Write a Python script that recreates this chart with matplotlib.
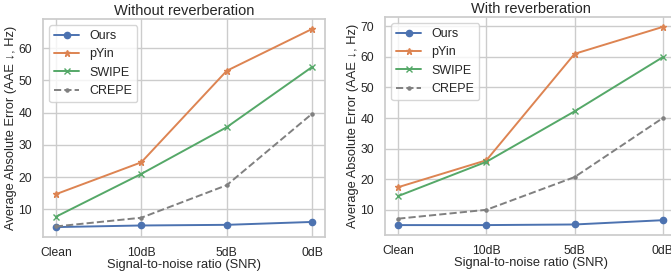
import numpy as np
import matplotlib
matplotlib.use("Agg")
import matplotlib.pyplot as plt
import seaborn as sns

sns.set_theme(style="whitegrid")
plt.rcParams['font.family'] = ['Liberation Sans', 'DejaVu Sans']

snr = ["Clean", "10dB", "5dB", "0dB"]

# without reverberation
ours_clean = [4.5, 5.0, 5.2, 6.1]
pyin_clean = [14.7, 24.6, 53.0, 66.0]
swipe_clean = [7.7, 21.0, 35.5, 54.2]
crepe_clean = [4.7, 7.4, 17.5, 39.7]

# with reverberation
ours_rev = [5.0, 5.0, 5.2, 6.6]
pyin_rev = [17.4, 26.2, 61.0, 69.8]
swipe_rev = [14.5, 25.7, 42.2, 59.9]
crepe_rev = [7.1, 10.0, 20.7, 40.0]

pal = sns.color_palette()

fig = plt.figure(figsize=(6.71, 2.73), dpi=100)
ax1 = fig.add_axes([43/671, 36/273, 282/671, 218/273])
ax2 = fig.add_axes([385/671, 38/273, 291/671, 218/273])

def draw(ax, ours, pyin, swipe, crepe, title):
    x = np.arange(len(snr))
    ax.plot(x, ours, marker='o', color=pal[0], lw=1.4, ms=4.5, label='Ours')
    ax.plot(x, pyin, marker='*', color=pal[1], lw=1.4, ms=5, label='pYin')
    ax.plot(x, swipe, marker='x', color=pal[2], lw=1.4, ms=4.5, label='SWIPE')
    ax.plot(x, crepe, marker='.', color='gray', ls='--', lw=1.4, ms=4.5, label='CREPE')
    ax.set_xticks(x)
    ax.set_xticklabels(snr)
    ax.tick_params(labelsize=8.7)
    ax.tick_params(axis='x', pad=1)
    ax.tick_params(axis='y', pad=2)
    ax.set_title(title, fontsize=10.5, pad=3)
    ax.set_xlabel("Signal-to-noise ratio (SNR)", fontsize=9.3, labelpad=0)
    ax.set_ylabel("Average Absolute Error (AAE \u2193, Hz)", fontsize=9.3, labelpad=1)
    ax.legend(loc='upper left', fontsize=9)

draw(ax1, ours_clean, pyin_clean, swipe_clean, crepe_clean, "Without reverberation")
draw(ax2, ours_rev, pyin_rev, swipe_rev, crepe_rev, "With reverberation")

fig.savefig("out.png", dpi=100)
